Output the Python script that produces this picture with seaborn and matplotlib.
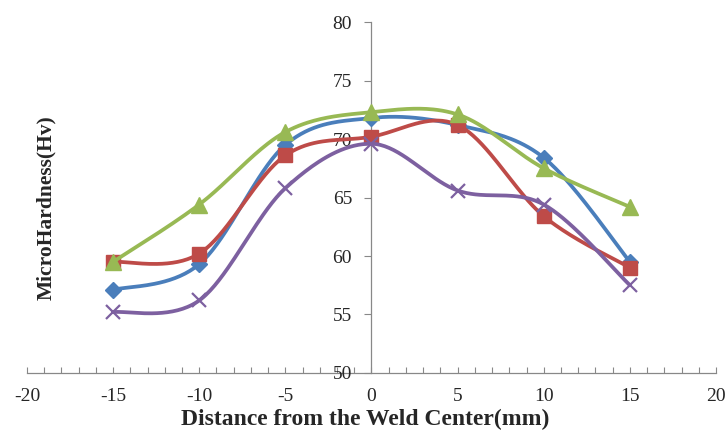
import numpy as np
import pandas as pd
import matplotlib
matplotlib.use("Agg")
import matplotlib.pyplot as plt
import seaborn as sns
from matplotlib.ticker import MultipleLocator

distance = [-15, -10, -5, 0, 5, 10, 15]
series_blue = [57.1, 59.3, 69.5, 71.8, 71.2, 68.4, 59.5]
series_red = [59.5, 60.2, 68.6, 70.2, 71.2, 63.4, 59.0]
series_green = [59.5, 64.4, 70.6, 72.3, 72.1, 67.5, 64.2]
series_purple = [55.2, 56.2, 65.8, 69.6, 65.6, 64.4, 57.5]

x_ticks = [-20, -15, -10, -5, 0, 5, 10, 15, 20]
y_ticks = [50, 55, 60, 65, 70, 75, 80]

sns.set_style("white")
plt.rcParams['font.family'] = ['Liberation Serif', 'DejaVu Serif']
plt.rcParams['axes.unicode_minus'] = False


def smooth(xs, ys, n=40):
    """Excel-like smoothed line (Catmull-Rom Bezier through the points)."""
    P = np.column_stack([xs, ys]).astype(float)
    m = len(P)
    out = []
    for i in range(m - 1):
        p0 = P[max(i - 1, 0)]
        p1 = P[i]
        p2 = P[i + 1]
        p3 = P[min(i + 2, m - 1)]
        c1 = p1 + (p2 - p0) / 6.0
        c2 = p2 - (p3 - p1) / 6.0
        t = np.linspace(0, 1, n)[:, None]
        seg = ((1 - t) ** 3) * p1 + 3 * ((1 - t) ** 2) * t * c1 + 3 * (1 - t) * t ** 2 * c2 + t ** 3 * p2
        out.append(seg if i == 0 else seg[1:])
    s = np.vstack(out)
    return s[:, 0], s[:, 1]


fig = plt.figure(figsize=(7.27, 4.34), dpi=100)
ax = fig.add_axes([0.037, 0.1406, 0.948, 0.8085])

specs = [
    (series_blue, "#4A7EBB", "D", 8.5),
    (series_red, "#BE4B48", "s", 10),
    (series_green, "#98B954", "^", 11),
    (series_purple, "#7D60A0", "x", 9.5),
]

for i, (vals, col, mk, ms) in enumerate(specs):
    sx, sy = smooth(distance, vals)
    sns.lineplot(x=sx, y=sy, ax=ax, color=col, linewidth=2.7, sort=False,
                 estimator=None, zorder=2 + i * 2)
    if mk == "x":
        ax.plot(distance, vals, linestyle="none", marker=mk, markersize=ms,
                markeredgecolor=col, markeredgewidth=1.6, zorder=3 + i * 2)
    else:
        ax.plot(distance, vals, linestyle="none", marker=mk, markersize=ms,
                markerfacecolor=col, markeredgecolor=col, zorder=3 + i * 2)

ax.set_xlim(-20, 20)
ax.set_ylim(50, 80)
ax.set_xticks(x_ticks)
ax.set_yticks(y_ticks)
ax.xaxis.set_minor_locator(MultipleLocator(1))

for side in ["top", "right"]:
    ax.spines[side].set_visible(False)
ax.spines['left'].set_position(('data', 0))
ax.spines['left'].set_color("#888888")
ax.spines['bottom'].set_color("#888888")
ax.spines['left'].set_linewidth(0.9)
ax.spines['bottom'].set_linewidth(0.9)

ax.tick_params(axis='x', which='both', direction='in', length=4, width=0.8,
               color="#888888", labelsize=14, pad=11, bottom=True)
ax.tick_params(axis='y', which='major', direction='out', length=5, width=0.8,
               color="#888888", labelsize=14, pad=9, left=True)
ax.set_axisbelow(False)

fig.text(0.502, 0.033, "Distance from the Weld Center(mm)", ha="center", va="center",
         fontsize=17, fontweight="bold")
fig.text(0.063, 0.521, "MicroHardness(Hv)", ha="center", va="center", rotation=90,
         fontsize=15.5, fontweight="bold")

fig.savefig("out.png", dpi=100)
